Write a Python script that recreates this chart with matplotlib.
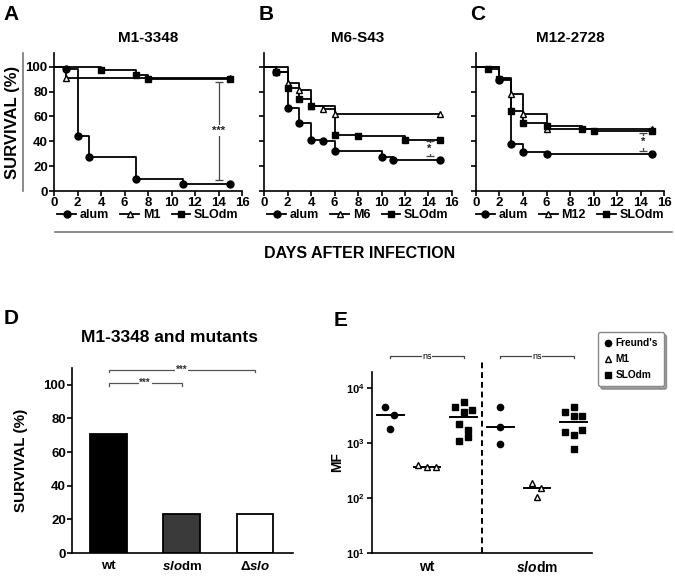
import numpy as np
import matplotlib.pyplot as plt
from matplotlib.lines import Line2D

plt.rcParams['font.family'] = ['Liberation Sans', 'DejaVu Sans']
plt.rcParams['font.weight'] = 'bold'
plt.rcParams['axes.labelweight'] = 'bold'
plt.rcParams['axes.titleweight'] = 'bold'
plt.rcParams['mathtext.fontset'] = 'custom'
plt.rcParams['mathtext.rm'] = 'Liberation Sans:bold'
plt.rcParams['mathtext.bf'] = 'Liberation Sans:bold'
plt.rcParams['mathtext.it'] = 'Liberation Sans:italic:bold'
plt.rcParams['axes.linewidth'] = 1.2

# ---- survival curves, A-C (day, % survival) ----
a_alum_t = [0, 1, 2, 3, 7, 11, 15]
a_alum_s = [100, 98, 44, 27, 10, 6, 6]
a_m_t = [0, 1, 15]
a_m_s = [100, 91, 91]
a_slo_t = [0, 4, 7, 8, 15]
a_slo_s = [100, 97, 93, 90, 90]

b_alum_t = [0, 1, 2, 3, 4, 5, 6, 10, 11, 15]
b_alum_s = [100, 96, 67, 55, 41, 40, 32, 27, 25, 25]
b_m_t = [0, 2, 3, 4, 5, 6, 15]
b_m_s = [100, 87, 81, 68, 66, 62, 62]
b_slo_t = [0, 1, 2, 3, 4, 6, 8, 12, 15]
b_slo_s = [100, 96, 83, 74, 68, 45, 44, 41, 41]

c_alum_t = [0, 2, 3, 4, 6, 15]
c_alum_s = [100, 89, 38, 31, 30, 30]
c_m_t = [0, 2, 3, 4, 6, 15]
c_m_s = [100, 91, 78, 62, 50, 50]
c_slo_t = [0, 1, 2, 3, 4, 6, 9, 10, 15]
c_slo_s = [100, 98, 90, 64, 55, 52, 50, 48, 48]

titles = ['M1-3348', 'M6-S43', 'M12-2728']
letters = ['A', 'B', 'C']
vaccines = ['M1', 'M6', 'M12']
sig_x = [14.0, 14.1, 14.2]
sig_lo = [9, 28, 32]
sig_hi = [88, 40, 47]
sig_txt = ['***', '*', '*']

# ---- D ----
d_groups = ['wt', r'$\it{slo}$dm', r'Δ$\it{slo}$']
d_surv = [71, 23, 23]
d_colors = ['black', '#3a3a3a', 'white']
d_brackets = [(0, 2, 109), (0, 1, 101)]

# ---- E (MF titres) ----
e_groups = ['wt', r'$\it{slo}$dm']
e_names = ["Freund's", 'M1', 'SLOdm']
wt_freund = [4500, 3200, 1800]
wt_m1 = [390, 360, 370]
wt_slodm = [4500, 5600, 3700, 4000, 2200, 1700, 1300, 1100]
sl_freund = [4500, 1950, 960]
sl_m1 = [187, 152, 104]
sl_slodm = [3600, 4500, 3100, 3100, 1600, 1400, 1700, 780]
wt_freund_j = [-0.14, 0.1, 0]
wt_m1_j = [-0.25, 0, 0.25]
wt_slodm_j = [-0.25, 0, 0, 0.22, -0.14, 0.11, 0.11, -0.14]
sl_freund_j = [0, 0, 0]
sl_m1_j = [-0.14, 0.11, 0]
sl_slodm_j = [-0.25, 0, 0, 0.22, -0.25, 0, 0.22, 0]

W, H = 675, 576
fig = plt.figure(figsize=(6.75, 5.76), dpi=100)


def px(x0, y0, x1, y1):
    return [x0 / W, 1 - y1 / H, (x1 - x0) / W, (y1 - y0) / H]


def km(ax, t, s, marker, mfc):
    ax.step(t, s, where='post', color='k', lw=1.3)
    ax.plot(t[1:], s[1:], ls='none', marker=marker, ms=5, mfc=mfc,
            mec='k', mew=1.0, zorder=3)


curves = [
    [(a_alum_t, a_alum_s), (a_m_t, a_m_s), (a_slo_t, a_slo_s)],
    [(b_alum_t, b_alum_s), (b_m_t, b_m_s), (b_slo_t, b_slo_s)],
    [(c_alum_t, c_alum_s), (c_m_t, c_m_s), (c_slo_t, c_slo_s)],
]
styles = [('o', 'k'), ('^', 'white'), ('s', 'k')]
lefts = [54, 264, 476]
letter_x = [11, 266, 478]

for i in range(3):
    ax = fig.add_axes(px(lefts[i], 53, lefts[i] + 188, 191))
    for (t, s), (m, fc) in zip(curves[i], styles):
        km(ax, t, s, m, fc)
    ax.set_xlim(0, 16)
    ax.set_ylim(0, 111)
    ax.set_xticks(np.arange(0, 17, 2))
    ax.set_yticks(np.arange(0, 101, 20))
    ax.spines[['top', 'right']].set_visible(False)
    ax.tick_params(labelsize=9.5, length=3.5, width=1.2, pad=1)
    if i == 0:
        ax.set_ylabel('SURVIVAL (%)', fontsize=12)
        ax.yaxis.set_label_coords(-0.18, 0.5)
    else:
        ax.tick_params(labelleft=False)
    ax.set_title(titles[i], fontsize=11, pad=8)
    fig.text(letter_x[i] / W, 1 - 14 / H, letters[i], fontsize=15,
             ha='center', va='center')
    # significance bar
    ax.errorbar([sig_x[i]], [(sig_lo[i] + sig_hi[i]) / 2],
                yerr=[(sig_hi[i] - sig_lo[i]) / 2], fmt='none',
                ecolor='#444444', elinewidth=0.9, capsize=3, capthick=0.9)
    ax.text(sig_x[i], (sig_lo[i] + sig_hi[i]) / 2, sig_txt[i], fontsize=8,
            ha='center', va='center', color='#222222',
            bbox=dict(fc='white', ec='none', pad=0.5))
    handles = [Line2D([], [], color='k', lw=1.3, marker=m, ms=5, mfc=fc,
                      mec='k') for m, fc in styles]
    ax.legend(handles, ['alum', vaccines[i], 'SLOdm'], loc='center',
              bbox_to_anchor=(0.5, -0.175), ncol=3, frameon=False,
              fontsize=9, handlelength=1.5, handletextpad=0.3,
              columnspacing=0.9, borderaxespad=0, borderpad=0)

# decorative axis-title lines
fig.add_artist(Line2D([23 / W, 23 / W], [1 - 53 / H, 1 - 191 / H],
                      color='#777777', lw=1.2))
fig.add_artist(Line2D([55 / W, 672 / W], [1 - 232 / H, 1 - 232 / H],
                      color='#777777', lw=1.2))
fig.text(360 / W, 1 - 253 / H, 'DAYS AFTER INFECTION', fontsize=11.5,
         ha='center', va='center')

# ---- panel D ----
axd = fig.add_axes(px(72, 368, 293, 553))
xd = np.arange(len(d_groups))
axd.bar(xd, d_surv, width=0.5, color=d_colors, edgecolor='k', lw=1.3)
axd.set_xlim(-0.5, 2.52)
axd.set_ylim(0, 110)
axd.set_yticks(np.arange(0, 101, 20))
axd.set_xticks(xd)
axd.set_xticklabels(d_groups)
axd.spines[['top', 'right']].set_visible(False)
axd.tick_params(axis='y', labelsize=9.5, length=3.5, width=1.2, pad=1)
axd.tick_params(axis='x', labelsize=9.5, length=0, pad=5)
axd.set_ylabel('SURVIVAL (%)', fontsize=11)
axd.yaxis.set_label_coords(-0.2, 0.5)
for x0, x1, yb in d_brackets:
    axd.plot([x0, x0, x1, x1], [yb - 1.5, yb, yb, yb - 1.5], color='#555555',
             lw=0.9, clip_on=False)
    axd.text((x0 + x1) / 2, yb, '***', fontsize=7, ha='center', va='center',
             color='#333333', bbox=dict(fc='white', ec='none', pad=0.5))
fig.text(170 / W, 1 - 337 / H, 'M1-3348 and mutants', fontsize=12.5,
         ha='center', va='center')
fig.text(11 / W, 1 - 319 / H, 'D', fontsize=15, ha='center', va='center')

# ---- panel E ----
axe = fig.add_axes(px(372, 372, 592, 553))
axe.set_yscale('log')
e_sets = [
    (1, wt_freund, wt_freund_j, 'o', 'k'),
    (2, wt_m1, wt_m1_j, '^', 'white'),
    (3, wt_slodm, wt_slodm_j, 's', 'k'),
    (4, sl_freund, sl_freund_j, 'o', 'k'),
    (5, sl_m1, sl_m1_j, '^', 'white'),
    (6, sl_slodm, sl_slodm_j, 's', 'k'),
]
for pos, vals, jit, m, fc in e_sets:
    axe.plot(pos + np.array(jit), vals, ls='none', marker=m, ms=4.5,
             mfc=fc, mec='k', mew=1.0, zorder=3)
    med = np.median(vals)
    axe.plot([pos - 0.36, pos + 0.36], [med, med], color='k', lw=1.4)
axe.set_xlim(0.5, 6.5)
axe.set_ylim(10, 10 ** 4.29)
axe.set_yticks([10, 100, 1000, 10000])
axe.set_yticklabels([r'$\mathbf{10^{1}}$', r'$\mathbf{10^{2}}$',
                     r'$\mathbf{10^{3}}$', r'$\mathbf{10^{4}}$'])
axe.yaxis.set_minor_locator(plt.NullLocator())
axe.set_xticks([2, 5])
axe.set_xticklabels(e_groups)
axe.spines[['top', 'right']].set_visible(False)
axe.tick_params(axis='y', labelsize=8, length=3.5, width=1.2, pad=2)
axe.tick_params(axis='x', labelsize=10, length=0, pad=5)
axe.set_ylabel('MF', fontsize=10)
axe.yaxis.set_label_coords(-0.125, 0.5)
axe.plot([3.5, 3.5], [10, 10 ** 4.47], color='k', lw=1.4, ls=(0, (3, 2)),
         clip_on=False)
for x0, x1 in [(1, 3), (4, 6)]:
    yb = 10 ** 4.58
    axe.plot([x0, x0, x1, x1], [yb * 0.93, yb, yb, yb * 0.93],
             color='#444444', lw=0.9, clip_on=False)
    axe.text((x0 + x1) / 2, yb, 'ns', fontsize=6.5, fontweight='normal',
             ha='center', va='center', bbox=dict(fc='white', ec='none', pad=0.5))
fig.text(341 / W, 1 - 320 / H, 'E', fontsize=15, ha='center', va='center')
e_handles = [Line2D([], [], ls='none', marker=m, ms=4.5, mfc=fc, mec='k')
             for m, fc in [('o', 'k'), ('^', 'white'), ('s', 'k')]]
fig.legend(e_handles, e_names, loc='upper left',
           bbox_to_anchor=(593 / W, 1 - 327 / H), fontsize=7.3,
           handlelength=0.8, handletextpad=0.3, labelspacing=0.6,
           borderpad=0.6, fancybox=True, shadow=True, edgecolor='#888888',
           framealpha=1)

fig.savefig('out.png', dpi=100)
